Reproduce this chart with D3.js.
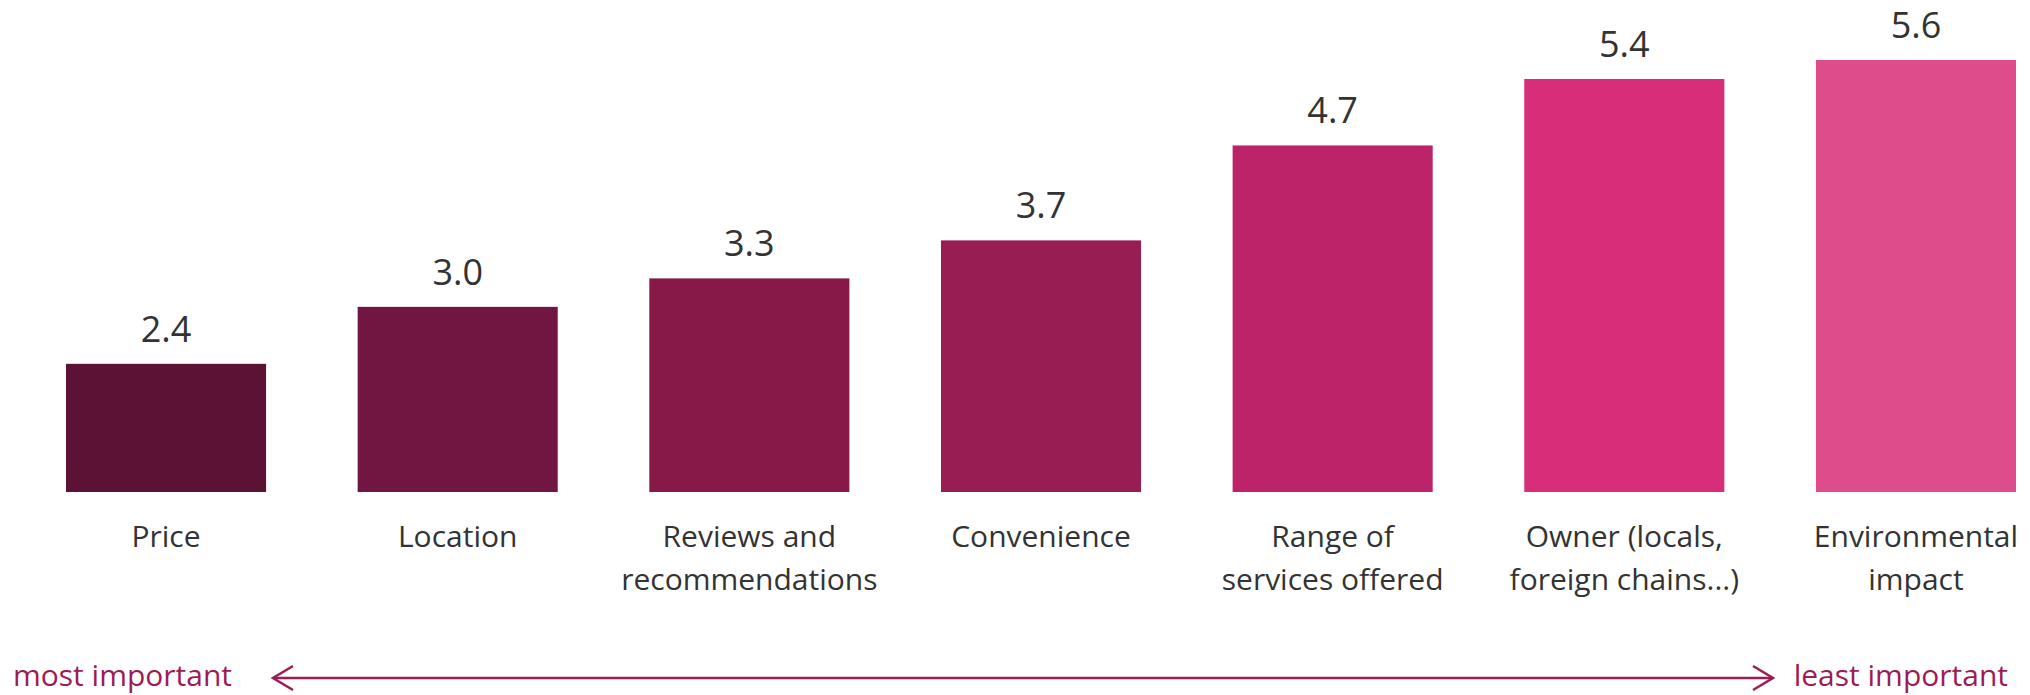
<!DOCTYPE html>
<html>
<head>
<meta charset="utf-8">
<script src="https://cdn.jsdelivr.net/npm/d3@7"></script>
<style>
  html, body { margin: 0; padding: 0; background: #ffffff; }
  svg { display: block; }
</style>
</head>
<body>
<svg id="chart" width="2030" height="695"></svg>
<script>
// Average rank of each factor (1 = most important)
const categories = [
  ["Price"],
  ["Location"],
  ["Reviews and", "recommendations"],
  ["Convenience"],
  ["Range of", "services offered"],
  ["Owner (locals,", "foreign chains...)"],
  ["Environmental", "impact"]
];
const values = [2.4, 3.0, 3.3, 3.7, 4.7, 5.4, 5.6];
const barColors = ["#5c1234", "#701640", "#871947", "#971d53", "#bc2368", "#d82d79", "#df4c8b"];
const scaleEnds = ["most important", "least important"];

const svg = d3.select("#chart");
const font = "'Open Sans', 'Noto Sans', sans-serif";
const textColor = "#333333";
const accent = "#9c1c56";

const keys = categories.map((c, i) => i);
const x = d3.scaleBand()
  .domain(keys)
  .range([66, 2016])
  .paddingInner(0.314)
  .paddingOuter(0);

// Rank axis starts just above 1, so bars grow from there
const y = d3.scaleLinear()
  .domain([1.05, 5.6])
  .range([492, 60]);

// Bars
svg.append("g")
  .selectAll("rect")
  .data(values)
  .join("rect")
  .attr("x", (d, i) => x(i))
  .attr("y", d => y(d))
  .attr("width", x.bandwidth())
  .attr("height", d => y(y.domain()[0]) - y(d))
  .attr("fill", (d, i) => barColors[i]);

// Value labels above bars
svg.append("g")
  .selectAll("text")
  .data(values)
  .join("text")
  .attr("x", (d, i) => x(i) + x.bandwidth() / 2)
  .attr("y", d => y(d) - 22)
  .attr("text-anchor", "middle")
  .attr("font-family", font)
  .attr("font-size", 36)
  .attr("fill", textColor)
  .text(d => d3.format(".1f")(d));

// Category labels under bars
const cat = svg.append("g")
  .selectAll("text")
  .data(categories)
  .join("text")
  .attr("x", (d, i) => x(i) + x.bandwidth() / 2)
  .attr("y", 547)
  .attr("text-anchor", "middle")
  .attr("font-family", font)
  .attr("font-size", 30)
  .attr("fill", textColor);
cat.selectAll("tspan")
  .data(d => d)
  .join("tspan")
  .attr("x", function () { return d3.select(this.parentNode).attr("x"); })
  .attr("dy", (d, j) => j === 0 ? 0 : 43)
  .text(d => d);

// Importance scale: double-headed arrow with end labels
const arrowY = 678;
const ax0 = 273, ax1 = 1773;
const g = svg.append("g").attr("stroke", accent).attr("stroke-width", 2.5).attr("fill", "none");
g.append("line").attr("x1", ax0).attr("x2", ax1).attr("y1", arrowY).attr("y2", arrowY);
g.append("path").attr("d", `M${ax0 + 20},${arrowY - 12} L${ax0},${arrowY} L${ax0 + 20},${arrowY + 12}`);
g.append("path").attr("d", `M${ax1 - 20},${arrowY - 12} L${ax1},${arrowY} L${ax1 - 20},${arrowY + 12}`);

svg.append("text")
  .attr("x", 13).attr("y", 686)
  .attr("font-family", font).attr("font-size", 30)
  .attr("fill", accent)
  .text(scaleEnds[0]);
svg.append("text")
  .attr("x", 2008).attr("y", 686)
  .attr("text-anchor", "end")
  .attr("font-family", font).attr("font-size", 30)
  .attr("fill", accent)
  .text(scaleEnds[1]);
</script>
</body>
</html>
